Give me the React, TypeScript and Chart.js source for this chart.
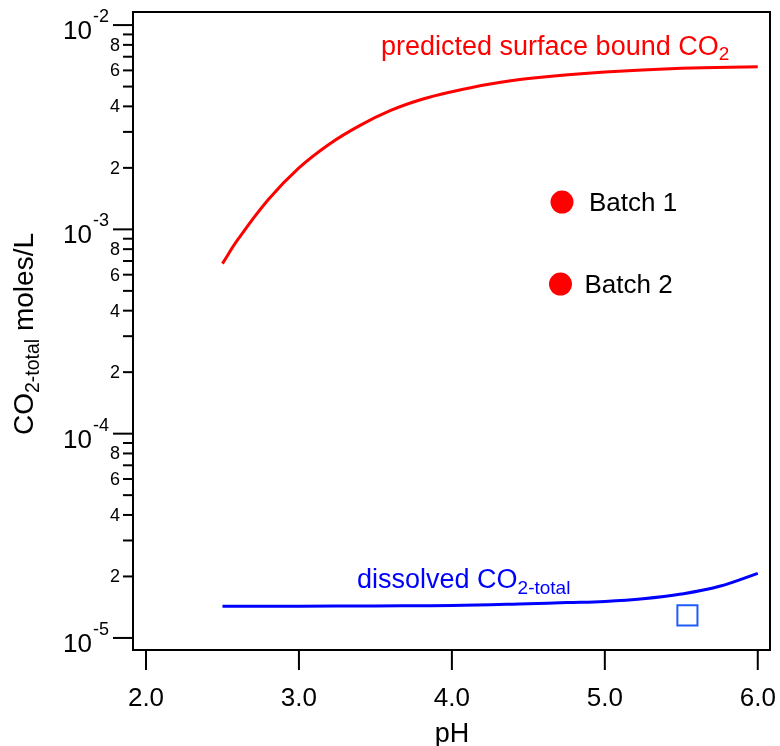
import React, { useEffect, useRef } from "react";
import { Chart, registerables } from "chart.js";

Chart.register(...registerables);

// ---- data ----
const predictedPH = [2.5, 2.6, 2.8, 3.0, 3.2, 3.4, 3.6, 3.8, 4.0, 4.25, 4.5, 5.0, 5.5, 6.0];
const predictedCO2 = [6.8e-4, 8.9e-4, 1.4e-3, 2.0e-3, 2.62e-3, 3.23e-3, 3.82e-3, 4.32e-3, 4.72e-3, 5.15e-3, 5.48e-3, 5.89e-3, 6.15e-3, 6.25e-3];

const dissolvedPH = [2.5, 3.0, 3.5, 4.0, 4.5, 4.75, 5.0, 5.25, 5.5, 5.75, 6.0];
const dissolvedCO2 = [1.43e-5, 1.43e-5, 1.435e-5, 1.44e-5, 1.47e-5, 1.49e-5, 1.51e-5, 1.555e-5, 1.64e-5, 1.79e-5, 2.07e-5];

const batchPH = [4.72, 4.71];
const batchCO2 = [1.36e-3, 5.4e-4];
const batchLabels = ["Batch 1", "Batch 2"];

const measuredPH = [5.54];
const measuredCO2 = [1.29e-5];

const xTicks = [2, 3, 4, 5, 6];
const xTickLabels = ["2.0", "3.0", "4.0", "5.0", "6.0"];
const yDecadeExponents = [-5, -4, -3, -2];
const yMinorMultipliers = [2, 3, 4, 5, 6, 7, 8, 9];
const yLabeledMinors = [2, 4, 6, 8];

const X_MIN = 1.915;
const X_MAX = 6.08;
const Y_MIN = Math.pow(10, -5.059);
const Y_MAX = Math.pow(10, -1.936);

const FONT = '"Liberation Sans", Arial, Helvetica, sans-serif';

type Run = { t: string; size: number; dy?: number };

function drawRuns(ctx: CanvasRenderingContext2D, x: number, y: number, parts: Run[], color: string) {
  let cx = x;
  ctx.fillStyle = color;
  ctx.textAlign = "left";
  ctx.textBaseline = "alphabetic";
  for (const p of parts) {
    ctx.font = `${p.size}px ${FONT}`;
    ctx.fillText(p.t, cx, y + (p.dy || 0));
    cx += ctx.measureText(p.t).width;
  }
}

const decorPlugin = {
  id: "decor",
  afterDatasetsDraw(chart: any) {
    const ctx: CanvasRenderingContext2D = chart.ctx;
    const area = chart.chartArea;
    const xs = chart.scales.x;
    const ys = chart.scales.y;
    ctx.save();

    // frame
    ctx.strokeStyle = "#000";
    ctx.lineWidth = 2;
    ctx.strokeRect(area.left, area.top, area.right - area.left, area.bottom - area.top);

    // y ticks
    ctx.lineWidth = 2;
    for (const e of yDecadeExponents) {
      const base = Math.pow(10, e);
      const ty = ys.getPixelForValue(base);
      ctx.beginPath();
      ctx.moveTo(area.left - 20, ty);
      ctx.lineTo(area.left, ty);
      ctx.stroke();
      ctx.font = `26px ${FONT}`;
      ctx.fillStyle = "#000";
      ctx.textAlign = "right";
      ctx.textBaseline = "alphabetic";
      ctx.fillText("10", area.left - 41, ty + 14);
      ctx.font = `18px ${FONT}`;
      ctx.textAlign = "left";
      ctx.fillText(String(e), area.left - 40, ty - 3);
      for (const m of yMinorMultipliers) {
        const v = m * base;
        if (v > Y_MAX) continue;
        const my = ys.getPixelForValue(v);
        ctx.beginPath();
        ctx.moveTo(area.left - 10, my);
        ctx.lineTo(area.left, my);
        ctx.stroke();
        if (yLabeledMinors.includes(m)) {
          ctx.font = `18px ${FONT}`;
          ctx.textAlign = "right";
          ctx.textBaseline = "middle";
          ctx.fillText(String(m), area.left - 13, my + 1);
        }
      }
    }

    // x ticks
    xTicks.forEach((v, i) => {
      const tx = xs.getPixelForValue(v);
      ctx.beginPath();
      ctx.moveTo(tx, area.bottom);
      ctx.lineTo(tx, area.bottom + 20);
      ctx.stroke();
      ctx.font = `26px ${FONT}`;
      ctx.fillStyle = "#000";
      ctx.textAlign = "center";
      ctx.textBaseline = "alphabetic";
      ctx.fillText(xTickLabels[i], tx, area.bottom + 56);
    });

    // x title
    ctx.font = `27px ${FONT}`;
    ctx.textAlign = "center";
    ctx.fillText("pH", xs.getPixelForValue(4), area.bottom + 92);

    // y title
    ctx.save();
    ctx.translate(33, 435);
    ctx.rotate(-Math.PI / 2);
    drawRuns(ctx, 0, 0, [
      { t: "CO", size: 28 },
      { t: "2-total", size: 19.5, dy: 6 },
      { t: " moles/L", size: 28 },
    ], "#000");
    ctx.restore();

    // curve labels
    drawRuns(ctx, 381, 55, [
      { t: "predicted surface bound CO", size: 27 },
      { t: "2", size: 19, dy: 5 },
    ], "#ff0000");
    drawRuns(ctx, 357, 588, [
      { t: "dissolved CO", size: 27 },
      { t: "2-total", size: 19, dy: 6 },
    ], "#0000ff");

    // batch labels
    batchLabels.forEach((lab, i) => {
      const px = xs.getPixelForValue(batchPH[i]);
      const py = ys.getPixelForValue(batchCO2[i]);
      ctx.font = `26px ${FONT}`;
      ctx.fillStyle = "#000";
      ctx.textAlign = "left";
      ctx.textBaseline = "alphabetic";
      ctx.fillText(lab, px + (i === 0 ? 27 : 24), py + 9);
    });

    ctx.restore();
  },
};

export default function App() {
  const canvasRef = useRef<HTMLCanvasElement | null>(null);

  useEffect(() => {
    if (!canvasRef.current) return;
    const chart = new Chart(canvasRef.current, {
      type: "scatter",
      data: {
        datasets: [
          {
            label: "predicted surface bound CO2",
            data: predictedPH.map((x, i) => ({ x, y: predictedCO2[i] })),
            showLine: true,
            borderColor: "#ff0000",
            borderWidth: 3,
            pointRadius: 0,
            tension: 0.4,
          },
          {
            label: "dissolved CO2-total",
            data: dissolvedPH.map((x, i) => ({ x, y: dissolvedCO2[i] })),
            showLine: true,
            borderColor: "#0000ff",
            borderWidth: 3,
            pointRadius: 0,
            tension: 0.4,
          },
          {
            label: "Batch",
            data: batchPH.map((x, i) => ({ x, y: batchCO2[i] })),
            showLine: false,
            pointStyle: "circle",
            pointRadius: 11.5,
            backgroundColor: "#ff0000",
            borderWidth: 0,
          },
          {
            label: "measured",
            data: measuredPH.map((x, i) => ({ x, y: measuredCO2[i] })),
            showLine: false,
            pointStyle: "rect",
            pointRadius: 14.2,
            backgroundColor: "rgba(255,255,255,0)",
            borderColor: "#1f5cff",
            borderWidth: 2,
          },
        ],
      } as any,
      options: {
        animation: false,
        responsive: true,
        maintainAspectRatio: false,
        events: [],
        layout: { autoPadding: false, padding: { left: 133, top: 12, right: 10, bottom: 96 } },
        plugins: { legend: { display: false }, tooltip: { enabled: false } },
        scales: {
          x: { type: "linear", min: X_MIN, max: X_MAX, display: false },
          y: { type: "logarithmic", min: Y_MIN, max: Y_MAX, display: false },
        },
      } as any,
      plugins: [decorPlugin],
    });
    return () => chart.destroy();
  }, []);

  return (
    <div style={{ position: "fixed", left: 0, top: 0, width: 780, height: 746, background: "#fff" }}>
      <canvas ref={canvasRef} />
    </div>
  );
}
